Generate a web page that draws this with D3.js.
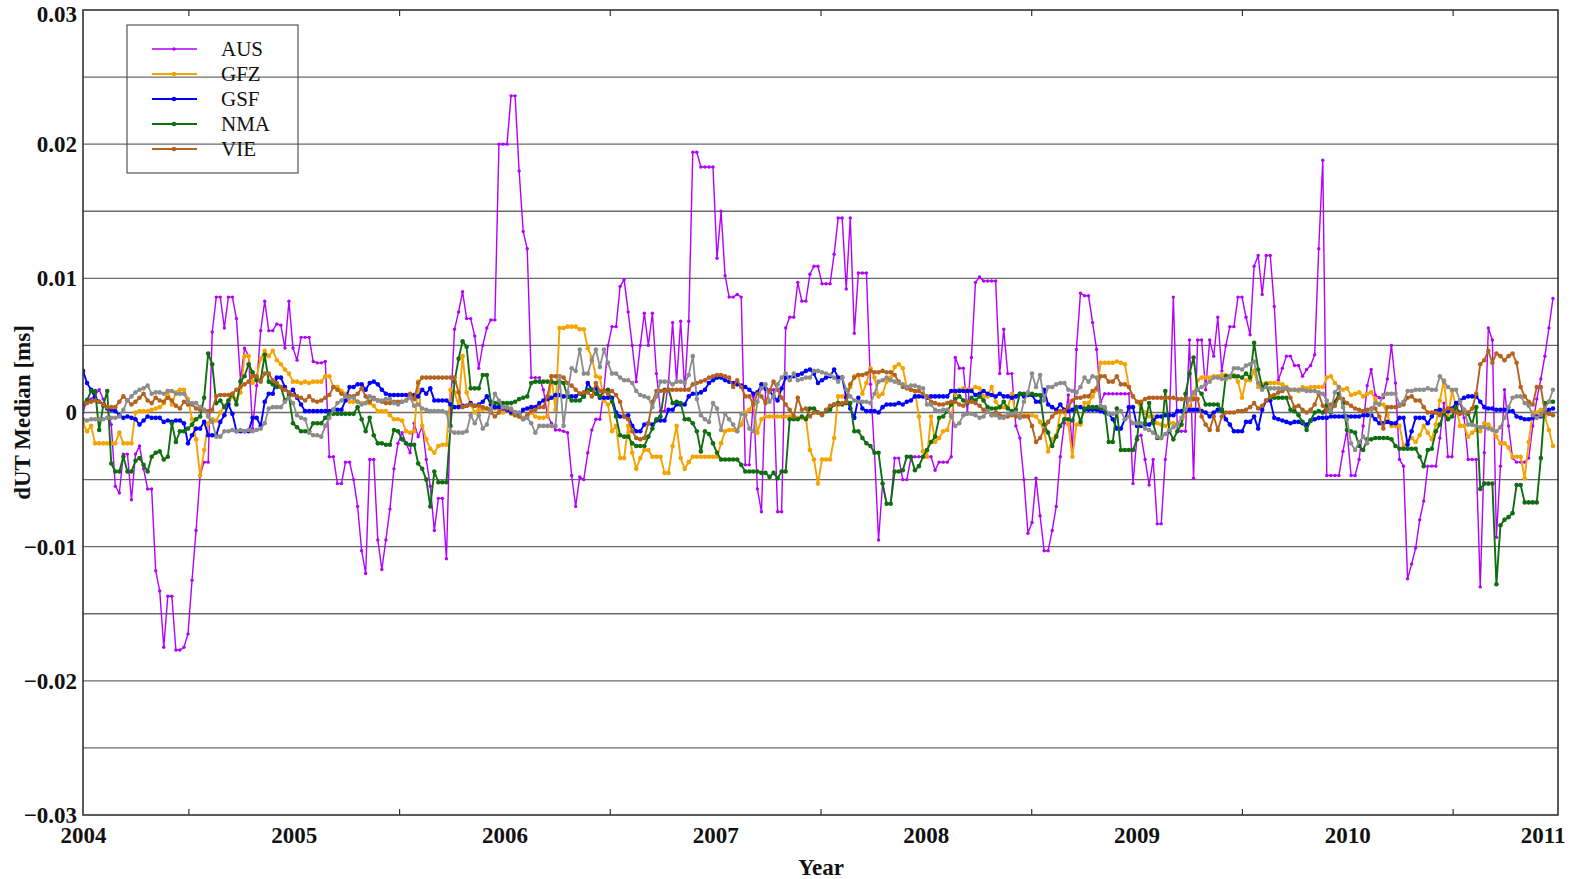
<!DOCTYPE html>
<html><head><meta charset="utf-8">
<script src="https://cdn.jsdelivr.net/npm/d3@7/dist/d3.min.js"></script>
<style>
body{margin:0;background:#fff;}
svg{display:block;}
text{font-family:"Liberation Serif","Times New Roman",serif;}
</style>
</head><body>
<svg id="chart" width="1574" height="879"></svg>
<script>
// ---------- data (values in units of 0.001 ms, weekly samples from 2004.0) ----------
const startYear = 2004;
const weekStepYears = 7 / 365.25;
const yearTicks = [2004, 2005, 2006, 2007, 2008, 2009, 2010, 2011];
const halfYearTicks = [2004.5, 2005.5, 2006.5, 2007.5, 2008.5, 2009.5, 2010.5];
const yLabelTicks = [-0.03, -0.02, -0.01, 0, 0.01, 0.02, 0.03];
const yGridTicks = [-0.025, -0.02, -0.015, -0.01, -0.005, 0, 0.005, 0.01, 0.015, 0.02, 0.025];
const seriesNames = ["AUS", "GFZ", "GSF", "NMA", "VIE"];
const xTitle = "Year";
const yTitle = "dUT Median [ms]";

const aus = [
0.0,1.0,1.0,1.3,1.7,1.0,0.3,-0.9,-5.5,-6.0,
-3.1,-3.1,-6.5,-3.1,-2.5,-4.2,-5.7,-5.7,-11.8,-13.3,
-17.5,-13.7,-13.7,-17.7,-17.7,-17.5,-16.5,-12.5,-8.8,-4.7,
-3.7,-3.7,6.0,8.6,8.6,6.3,8.6,8.6,7.0,2.4,
4.8,4.2,-1.2,2.0,6.1,8.3,6.1,6.1,6.6,6.5,
4.8,8.3,4.8,3.9,5.6,5.6,5.6,3.8,3.7,3.7,
3.8,-3.3,-3.3,-5.3,-5.3,-3.7,-3.7,-5.0,-7.0,-10.3,
-12.0,-3.5,-3.5,-9.5,-11.7,-9.5,-7.2,-4.2,-2.3,-1.5,
-2.3,-3.0,-0.8,-1.8,-1.0,-3.5,-5.5,-8.8,-6.4,-6.4,
-10.9,0.2,6.2,7.5,9.0,7.0,7.0,5.7,3.3,5.0,
6.3,6.9,6.9,20.0,20.0,20.0,23.6,23.6,18.0,13.5,
12.2,2.6,2.6,2.6,1.7,-0.2,-0.8,-1.3,-1.3,-1.4,
-1.5,-4.7,-7.0,-4.8,-5.0,-3.0,-1.3,-0.5,-0.5,1.7,
5.0,6.4,6.4,9.4,9.9,7.5,5.0,2.3,5.0,7.4,
5.0,7.4,2.9,0.1,0.1,2.3,6.7,2.3,6.8,1.7,
6.8,19.4,19.4,18.3,18.3,18.3,18.3,11.5,15.0,10.2,
8.6,8.6,8.8,8.6,-3.9,-3.9,1.2,-5.7,-7.4,1.7,
1.7,1.7,-7.4,-7.4,6.3,7.1,7.1,9.7,8.3,8.3,
10.3,10.9,10.9,9.6,9.6,9.6,11.8,14.5,14.5,9.2,
14.5,5.9,10.4,10.4,10.4,2.1,-3.0,-9.5,-5.3,-6.8,
-6.8,-3.4,-3.4,-5.0,-5.0,-3.4,-3.3,-3.3,-3.3,-3.3,
-3.3,-4.3,-3.7,-3.7,-3.7,-3.3,4.1,3.3,3.3,0.0,
4.1,9.7,10.1,9.8,9.8,9.8,9.8,2.9,6.2,2.9,
2.9,-1.0,-1.9,-5.0,-9.0,-8.2,-4.9,-7.7,-10.3,-10.3,
-8.8,-7.0,-3.3,-0.8,1.3,-2.8,4.7,8.9,8.7,8.7,
6.7,4.7,0.8,1.4,1.4,1.4,1.4,1.4,1.4,1.4,
-5.3,-1.8,-1.7,-3.5,-5.4,-3.5,-8.3,-8.3,-3.5,-0.8,
8.6,-1.4,-1.4,-1.4,5.4,-4.9,5.4,5.4,1.7,5.4,
4.2,7.1,3.1,5.0,6.4,6.4,8.6,8.6,7.1,5.8,
10.9,11.7,8.8,11.7,11.7,7.9,2.4,3.3,4.2,4.2,
3.5,3.5,2.7,3.2,3.5,4.3,12.2,18.8,-4.7,-4.7,
-4.7,-4.7,-2.9,-1.3,-4.7,-4.7,-3.5,-1.0,2.0,3.2,
1.3,1.1,1.1,2.5,5.0,2.2,-3.5,-4.0,-12.4,-11.3,
-10.1,-8.0,-6.6,-4.0,-4.0,-4.0,-1.9,0.7,-3.3,-3.3,
0.4,0.7,-0.4,-3.5,-3.5,-3.5,-13.0,-3.0,6.3,5.4,
-9.3,-4.0,1.7,-1.0,-3.4,-3.7,-3.7,-3.7,-3.4,-1.0,
1.0,2.5,4.2,6.3,8.5
];

const gfz = [
-0.8,-1.4,-1.0,-2.3,-2.3,-2.3,-2.3,-2.3,-2.3,-1.5,
-2.3,-2.3,-2.3,0.0,0.1,0.1,0.1,0.2,0.3,0.4,
0.7,1.6,0.6,1.5,1.7,1.7,1.0,-0.5,-2.0,-4.7,
-2.8,-0.8,-0.5,-0.6,0.0,0.5,0.7,1.2,1.0,1.5,
4.2,4.2,2.2,2.7,4.0,4.6,4.2,4.6,3.9,3.6,
3.2,2.9,2.3,2.3,2.2,2.3,2.2,2.3,2.3,2.3,
2.7,2.7,1.9,1.9,1.6,1.4,0.8,0.8,0.8,0.7,
0.7,0.7,0.5,0.1,0.1,0.1,-0.2,-0.5,-0.5,-0.6,
-1.4,-1.5,-1.4,2.3,-1.0,-2.0,-2.7,-3.0,-2.5,-2.4,
-2.4,1.7,1.5,0.5,4.2,1.5,0.6,0.0,0.2,0.2,
0.3,0.3,0.3,0.2,0.0,0.2,-0.1,-0.2,-0.3,-0.4,
-0.3,0.0,-0.3,-0.4,-0.4,-0.3,2.7,0.2,6.3,6.3,
6.4,6.4,6.4,6.2,6.2,4.8,4.1,2.7,2.6,0.9,
0.6,-1.4,-1.0,-3.4,-3.4,-1.0,-3.0,-4.2,-3.4,-2.8,
-2.8,-3.3,-3.3,-3.3,-4.5,-4.5,-2.5,-1.0,-3.4,-4.2,
-3.7,-3.3,-3.3,-3.3,-3.3,-3.3,-3.3,-3.3,-2.3,-1.4,
-1.3,-1.3,-1.4,-0.9,0.0,0.2,0.7,-1.5,-0.5,-0.3,
-0.3,-0.3,-0.3,-0.3,-0.3,-0.3,-0.3,-0.4,-0.4,-0.4,
-2.8,-3.5,-5.3,-3.5,-3.5,-3.5,-1.9,1.2,1.2,1.2,
1.9,2.7,2.8,1.4,2.2,3.3,2.6,1.2,1.4,2.3,
2.6,3.4,3.6,3.3,1.9,1.7,1.6,-0.3,-2.9,-3.3,
-0.3,-2.2,-1.9,-1.4,-1.3,-0.3,1.4,1.7,1.8,1.7,
1.7,1.9,1.8,1.2,1.2,1.9,0.8,0.4,0.4,0.4,
1.4,-0.2,-0.2,-0.2,-0.2,-0.2,-0.3,-0.7,-1.4,-2.9,
-2.0,-1.7,0.0,0.0,-0.9,-3.3,-0.9,-0.9,0.7,0.7,
1.2,1.7,3.7,3.7,3.7,3.7,3.8,3.7,3.6,1.9,
1.2,0.8,0.3,0.0,-0.3,-0.3,-0.8,-0.9,-1.0,-0.8,
-0.8,-0.9,-0.9,0.0,0.4,1.2,2.4,2.6,2.6,2.6,
2.7,2.7,2.8,2.8,2.6,2.8,2.3,1.1,2.4,2.4,
3.1,1.9,2.1,2.2,2.2,2.2,2.2,2.1,1.9,1.7,
1.7,1.6,1.9,1.8,1.9,1.9,1.9,1.9,2.6,2.7,
2.2,1.9,1.7,1.8,1.3,1.4,1.5,1.2,1.4,1.5,
1.0,0.6,0.6,-0.2,-1.0,-1.0,-1.0,-2.5,-2.2,-1.9,
-2.2,-1.7,-1.0,-1.5,-2.0,-0.9,0.9,2.4,-0.5,1.6,
0.5,-1.0,-1.0,-1.8,-1.5,-1.3,-1.4,-0.8,-0.9,-1.2,
-1.8,-2.3,-2.3,-2.6,-3.3,-3.3,-3.3,-4.9,-2.2,0.0,
0.0,0.2,-0.3,-1.3,-2.5
];

const gsf = [
3.1,2.2,1.7,1.1,0.8,0.6,0.3,0.2,0.1,-0.2,
-0.4,-0.3,-0.4,-0.5,-0.9,-0.6,-0.3,-0.4,-0.4,-0.4,
-0.7,-0.6,-0.7,-0.6,-0.6,-0.8,-2.3,-1.7,-1.2,-1.2,
-0.7,-1.7,-1.7,-1.7,-0.7,-0.2,0.6,-0.1,-1.4,-1.4,
-1.4,-1.4,-0.4,-0.4,-1.0,0.8,1.4,1.4,2.6,2.6,
1.9,1.4,1.7,1.1,0.6,0.1,0.1,0.1,0.1,0.1,
0.1,0.1,0.2,0.2,0.2,0.9,1.9,1.9,2.1,2.1,
1.7,2.2,2.3,2.1,1.7,1.4,1.3,1.3,1.3,1.3,
1.3,1.3,1.3,1.2,1.7,1.4,1.8,0.9,0.9,0.9,
0.9,0.6,0.4,0.4,0.5,0.5,0.7,0.5,0.6,0.8,
1.2,0.6,0.4,0.4,0.3,0.2,0.0,0.0,-0.2,0.2,
0.3,0.4,0.4,0.7,0.9,1.0,1.1,1.3,1.3,1.2,
1.2,1.2,1.2,1.4,1.2,2.2,1.7,1.8,1.1,1.1,
1.1,1.1,0.0,-0.3,-0.3,-0.2,-1.0,-1.4,-1.4,-0.9,
-0.8,-0.9,-0.6,-0.6,-0.6,0.2,0.2,0.6,0.6,0.6,
1.2,1.4,1.4,1.5,1.7,2.2,2.4,2.6,2.6,2.4,
2.3,2.2,2.1,2.0,1.9,1.7,1.4,1.5,2.1,1.8,
1.6,1.2,0.9,1.8,2.6,2.6,2.7,2.8,2.9,3.1,
3.2,2.9,2.2,2.4,2.6,2.7,3.2,2.6,2.6,1.1,
0.3,-0.4,1.1,0.3,0.1,0.1,0.1,0.0,0.4,0.6,
0.6,0.6,0.7,0.6,0.8,0.9,1.2,1.2,1.2,1.1,
1.2,1.2,1.2,1.2,1.2,1.6,1.6,1.6,1.6,1.6,
1.6,1.3,1.4,1.6,1.4,1.3,1.2,1.4,1.2,1.2,
1.1,1.2,1.4,1.2,1.3,1.3,0.8,0.8,1.7,0.6,
0.4,0.2,0.6,0.2,0.1,0.2,0.4,0.4,0.2,0.2,
0.2,0.2,0.1,0.0,-0.1,-0.5,-1.2,-1.2,-0.5,0.4,
0.4,-1.0,-1.0,-0.9,-0.9,-0.6,-0.3,-0.3,-0.2,-0.2,
-0.2,0.1,0.1,0.1,0.2,0.2,0.2,0.1,0.0,-0.3,
0.0,0.2,0.2,-0.5,-0.9,-1.4,-1.4,-1.4,-0.7,-0.7,
-0.3,-1.2,0.2,0.9,0.9,-0.4,-0.5,-0.6,-0.7,-0.8,
-0.7,-0.7,-0.8,-0.9,-0.6,-0.5,-0.4,-0.4,-0.4,-0.3,
-0.3,-0.3,-0.3,-0.3,-0.3,-0.3,-0.3,-0.2,-0.2,-0.2,
-0.5,-0.8,-0.8,-0.7,-0.8,-0.8,-0.4,-0.4,-2.4,-1.4,
-0.4,-0.4,-0.4,-0.8,-0.3,0.1,0.2,0.1,0.1,0.3,
0.7,0.9,1.1,1.2,1.2,1.2,0.8,0.4,0.3,0.3,
0.2,0.2,0.2,0.1,0.1,-0.3,-0.4,-0.5,-0.5,-0.4,
-0.3,-0.3,0.0,0.2,0.3
];

const nma = [
0.6,0.9,1.6,1.6,-1.3,0.5,1.6,-3.8,-4.4,-4.4,
-3.3,-4.4,-4.4,-3.6,-3.4,-3.9,-4.4,-3.3,-3.0,-2.9,
-3.5,-3.3,-0.8,-2.2,-1.4,-1.4,-1.2,-0.9,-0.5,-0.3,
1.1,4.4,3.6,0.7,0.9,0.4,0.9,1.4,0.6,2.3,
2.7,3.6,3.0,2.4,2.4,4.3,2.3,2.1,1.9,1.9,
0.9,1.2,-0.8,-1.1,-1.4,-1.4,-1.4,-0.8,-0.8,-0.8,
-0.4,-0.1,-0.1,-0.1,-0.1,-0.1,-0.1,-0.1,0.4,-0.5,
-1.4,-0.4,-1.7,-2.3,-2.3,-2.4,-2.4,-1.3,-1.4,-2.0,
-2.3,-2.4,-2.4,-3.8,-4.2,-5.0,-7.0,-4.4,-5.2,-5.2,
-5.2,-1.0,2.3,4.0,5.3,4.9,1.8,1.8,1.8,2.8,
2.8,0.8,0.7,0.7,0.7,0.7,0.7,0.8,1.0,1.1,
1.2,2.2,2.3,2.3,2.3,2.3,2.3,2.2,2.3,2.2,
1.2,0.9,0.9,0.9,1.2,1.7,1.7,1.4,1.2,1.6,
1.7,0.8,-0.3,-1.7,-1.8,-1.8,-2.3,-2.5,-2.5,-2.5,
-1.8,-1.2,-0.5,-0.3,1.7,1.7,0.7,0.8,0.7,-0.5,
-0.5,-0.8,-1.4,-2.9,-1.4,-1.6,-2.3,-3.0,-3.5,-3.5,
-3.5,-3.5,-3.5,-3.9,-4.4,-4.4,-4.4,-4.4,-4.5,-4.5,
-4.8,-4.5,-4.9,-4.4,-4.4,-0.5,-0.5,-0.5,-0.3,-0.5,
0.3,0.3,0.0,-0.1,0.1,0.2,0.6,0.7,0.6,0.7,
0.7,-1.4,-1.4,-1.9,-2.3,-2.5,-3.0,-3.0,-5.3,-6.8,
-6.8,-4.4,-4.4,-4.3,-3.3,-3.3,-4.3,-4.0,-3.3,-2.8,
-2.2,-1.8,-0.4,-0.3,0.1,0.6,1.0,1.2,0.9,0.7,
1.1,0.9,1.2,0.9,0.4,0.3,0.3,0.4,0.8,0.3,
0.1,0.2,1.4,1.4,1.4,1.4,1.3,1.3,-0.9,-1.5,
-2.5,-1.8,-1.0,-0.5,-0.5,-0.6,0.4,-0.7,0.3,0.4,
0.4,0.4,0.3,0.3,-2.2,-2.2,0.3,-2.8,-2.8,-2.8,
-2.8,-2.0,0.7,-0.8,0.7,-0.8,-1.9,-1.9,1.6,-1.4,
-2.0,-1.4,-0.9,1.4,2.9,4.1,1.7,1.4,0.6,0.6,
0.6,0.6,0.1,2.7,2.7,2.7,2.7,2.6,2.9,2.6,
5.2,3.2,1.9,2.1,1.1,1.1,1.1,1.1,1.1,0.2,
0.1,-0.2,-0.7,-1.3,-0.6,0.0,0.1,0.0,0.5,0.0,
0.8,1.4,0.7,-1.3,-1.4,-1.5,-2.5,-2.8,-2.0,-2.0,
-1.9,-1.9,-1.9,-1.9,-2.0,-2.5,-2.7,-2.7,-2.7,-2.7,
-2.7,-3.3,-4.0,-2.8,-2.7,-1.4,-0.9,0.0,-0.5,-0.3,
0.4,0.0,0.2,-0.1,-0.9,0.4,-5.7,-5.3,-5.3,-5.3,
-12.8,-8.4,-8.0,-7.8,-7.5,-5.4,-5.4,-6.7,-6.7,-6.7,
-6.7,-3.4,0.7,0.8,0.8
];

const vie = [
0.7,0.7,0.8,0.9,0.8,0.6,0.4,0.4,0.4,0.8,
1.2,0.9,0.6,0.8,1.1,1.4,0.9,0.7,1.1,0.9,
0.8,1.1,0.9,0.5,0.3,0.8,0.6,0.6,0.3,0.2,
0.2,0.1,0.2,1.2,1.3,1.3,1.3,1.4,1.7,1.9,
2.1,2.3,2.7,2.7,2.3,2.9,2.9,2.4,2.2,1.9,
1.7,1.5,1.3,1.2,1.1,0.9,1.2,0.9,0.8,0.9,
1.1,1.3,1.9,1.7,1.4,1.2,1.2,1.2,1.4,1.8,
1.2,0.8,1.1,0.9,0.8,0.7,0.7,0.8,0.8,0.8,
0.9,1.4,1.0,2.2,2.6,2.6,2.6,2.6,2.6,2.6,
2.6,2.6,2.6,1.5,0.4,0.5,0.6,0.5,0.5,0.4,
0.3,0.0,-0.3,0.0,0.4,0.3,0.2,-0.2,-0.3,-0.5,
-0.2,0.1,0.2,0.4,0.4,1.2,2.7,2.7,2.7,2.6,
2.2,2.0,1.7,1.4,1.5,1.5,1.2,2.2,1.6,1.6,
1.4,1.6,1.3,0.8,-0.3,-0.5,-1.4,-1.9,-2.0,-1.9,
-0.8,0.8,1.6,1.6,1.6,1.7,1.7,1.7,1.7,1.7,
1.7,2.1,2.2,2.3,2.4,2.6,2.7,2.8,2.8,2.7,
2.6,1.9,2.4,1.9,1.2,1.2,0.6,1.4,1.2,0.7,
1.6,2.3,1.7,1.1,0.6,0.2,-0.3,1.1,0.2,0.3,
-0.3,0.0,0.0,-0.2,0.2,0.5,0.6,0.6,0.7,0.8,
2.1,2.6,2.8,2.8,2.9,3.1,3.0,3.0,3.1,3.0,
3.0,2.8,2.3,1.9,1.8,1.7,1.6,1.6,1.4,1.2,
0.8,0.7,0.6,0.6,0.7,0.8,0.8,0.6,0.5,0.8,
0.8,0.7,0.5,0.2,0.1,-0.2,0.0,-0.2,-0.3,-0.3,
-0.2,-0.3,-0.3,-0.3,-0.3,-1.0,-2.2,-1.9,-1.3,-0.7,
-0.3,0.0,0.1,0.1,0.4,0.9,1.1,1.1,1.2,1.2,
1.6,1.8,2.7,2.7,2.3,2.3,2.7,2.1,2.1,1.9,
1.2,0.8,0.8,1.0,1.1,1.1,1.1,1.1,1.1,1.1,
1.1,1.0,1.0,1.0,1.0,1.0,1.0,-0.3,-0.9,-1.3,
-0.3,-1.3,-0.3,0.0,0.0,0.0,0.1,0.1,0.2,0.4,
0.7,0.3,0.5,0.9,1.2,1.3,1.5,1.6,1.8,1.1,
0.4,0.5,0.2,0.0,0.2,0.6,1.4,0.5,0.2,0.6,
0.5,1.1,1.0,0.7,0.5,0.3,0.2,0.1,0.2,0.3,
0.3,-0.3,-1.2,0.4,0.4,0.4,0.5,0.6,1.1,1.2,
0.9,0.9,0.4,0.0,0.0,0.0,-0.2,0.1,0.3,0.2,
0.0,-0.1,0.0,0.0,0.3,1.4,3.6,3.9,4.6,3.7,
4.4,4.2,3.9,4.2,4.4,3.7,1.9,1.2,0.8,0.6,
1.9,1.9,0.0,-0.1,-0.2
];

const other = [
-0.5,-0.6,-0.5,-0.5,-0.5,-0.5,-0.4,-0.4,-0.4,-0.3,
0.2,0.9,1.2,1.5,1.7,1.8,2.0,1.4,1.5,1.5,
1.4,1.6,1.6,1.4,1.4,1.4,0.8,0.7,0.7,0.4,
0.2,-0.3,-0.7,-1.8,-1.8,-1.4,-1.4,-1.3,-1.4,-1.3,
-1.4,-1.3,-1.4,-1.3,-1.2,-0.8,0.3,0.4,0.4,0.4,
0.8,1.1,0.7,-0.2,-0.4,-0.5,-1.5,-1.7,-1.7,-1.8,
-1.0,-0.4,0.2,0.7,0.9,1.2,1.1,1.1,0.8,0.6,
0.7,1.2,1.0,0.9,0.9,1.0,1.0,0.7,0.6,0.8,
0.9,1.1,0.5,0.6,0.3,0.2,0.1,0.1,0.1,0.1,
0.0,-1.4,-1.5,-1.5,-1.5,-1.4,-0.2,-0.8,-0.2,-1.2,
-0.9,0.2,1.4,0.9,0.4,0.4,0.3,0.0,0.0,-0.5,
-0.4,-0.8,-1.5,-1.0,-1.0,-1.0,-1.0,-1.0,2.7,-1.0,
1.5,3.3,3.1,4.7,2.9,2.9,3.9,4.7,3.4,4.7,
3.7,2.9,2.9,2.6,2.4,2.4,2.2,1.6,1.3,1.2,
1.1,0.4,1.2,2.3,2.3,2.3,2.1,2.3,2.3,2.2,
2.8,4.2,1.0,-0.2,-0.5,-0.7,0.7,0.3,-1.3,-0.1,
-0.5,-0.9,-1.4,-0.1,-0.2,-1.2,-1.4,0.8,1.8,2.1,
0.8,1.2,2.1,2.6,2.9,2.4,2.9,2.4,2.5,2.6,
2.6,3.1,3.1,3.0,2.9,2.8,2.6,2.3,2.6,1.7,
1.2,0.9,0.8,0.8,0.8,0.7,1.4,2.3,2.4,2.6,
2.4,2.3,2.2,2.1,1.9,2.0,2.0,1.9,1.8,0.6,
0.6,0.2,0.1,0.2,0.2,-0.3,-1.0,-0.8,-0.2,-0.1,
-0.1,-0.2,-0.4,-0.3,0.1,-0.2,-0.2,-0.4,-0.4,-0.1,
-0.1,0.0,-0.4,0.8,1.5,2.9,1.9,2.8,0.9,1.9,
1.9,2.1,2.2,2.2,1.7,1.6,1.5,1.9,2.6,2.3,
2.7,2.6,0.5,0.4,-0.1,-0.1,0.0,0.1,-0.5,-0.3,
-0.8,-0.8,-0.8,-1.2,-1.3,-1.5,-1.8,-1.9,-1.6,-1.3,
-1.1,-0.9,-0.4,0.2,1.0,1.5,1.7,1.9,2.1,2.3,
2.6,2.6,2.5,2.5,2.7,3.3,3.3,3.2,3.5,3.6,
3.8,2.2,1.7,1.9,1.8,1.8,1.8,1.8,1.8,1.7,
1.7,1.7,1.7,1.6,1.6,1.6,1.5,1.4,0.9,0.1,
1.5,1.9,0.4,-0.5,-2.3,-2.8,-2.2,-1.8,-2.3,0.2,
0.7,0.6,1.3,1.4,1.4,1.4,0.6,0.8,1.6,1.6,
1.7,1.7,1.7,1.8,1.7,1.7,2.7,2.3,1.9,1.7,
1.7,0.8,0.2,-0.9,-0.9,-1.0,-1.1,-1.1,-1.2,-1.3,
-1.4,-1.1,-0.4,0.4,1.1,1.2,1.2,0.7,0.5,-0.2,
-0.4,-0.2,0.3,0.8,1.7
];

// ---------- layout ----------
const W = 1574, H = 879;
const M = {left: 83, right: 1558, top: 10, bottom: 815};
const FONT = '"Liberation Serif","Times New Roman",serif';

const svg = d3.select("#chart");
const x = d3.scaleLinear().domain([2004, 2011]).range([M.left, M.right]);
const y = d3.scaleLinear().domain([-0.03, 0.03]).range([M.bottom, M.top]);
const unit = 0.001; // data units -> ms

const series = [
  {name: "other", values: other, color: "#8c8c8c", width: 1.8, r: 2.3, legend: false},
  {name: "AUS", values: aus, color: "#b300ff", width: 1.4, r: 1.7, legend: true},
  {name: "GFZ", values: gfz, color: "#f5a300", width: 1.9, r: 2.3, legend: true},
  {name: "GSF", values: gsf, color: "#0000ff", width: 1.9, r: 2.3, legend: true},
  {name: "NMA", values: nma, color: "#0f6e0f", width: 1.9, r: 2.3, legend: true},
  {name: "VIE", values: vie, color: "#b5621e", width: 1.9, r: 2.3, legend: true}
];

// gridlines
svg.append("g").selectAll("line").data(yGridTicks).join("line")
  .attr("x1", M.left).attr("x2", M.right)
  .attr("y1", d => y(d)).attr("y2", d => y(d))
  .attr("stroke", "#6a6a6a").attr("stroke-width", 1.3);

// clip
svg.append("defs").append("clipPath").attr("id", "clip")
  .append("rect").attr("x", M.left).attr("y", M.top)
  .attr("width", M.right - M.left).attr("height", M.bottom - M.top);

const plot = svg.append("g").attr("clip-path", "url(#clip)");
const drawOrder = ["AUS", "GFZ", "GSF", "NMA", "VIE", "other"];
drawOrder.forEach(nm => {
  const s = series.find(d => d.name === nm);
  const pts = s.values.map((v, i) => ({t: startYear + i * weekStepYears, v: v * unit}));
  const g = plot.append("g");
  g.append("path").datum(pts)
    .attr("fill", "none").attr("stroke", s.color).attr("stroke-width", s.width)
    .attr("stroke-linejoin", "round")
    .attr("d", d3.line().x(d => x(d.t)).y(d => y(d.v)));
  g.selectAll("circle").data(pts).join("circle")
    .attr("cx", d => x(d.t)).attr("cy", d => y(d.v)).attr("r", s.r)
    .attr("fill", s.color);
});

// frame
svg.append("rect").attr("x", M.left).attr("y", M.top)
  .attr("width", M.right - M.left).attr("height", M.bottom - M.top)
  .attr("fill", "none").attr("stroke", "#333").attr("stroke-width", 1.6);

// x axis (bottom) labels
const xAxis = svg.append("g").attr("transform", `translate(0,${M.bottom})`)
  .call(d3.axisBottom(x).tickValues(yearTicks).tickFormat(d3.format("d")).tickSize(0).tickPadding(12));
xAxis.select(".domain").remove();
xAxis.selectAll("text").attr("font-family", FONT).attr("font-size", 23)
  .attr("font-weight", "bold").attr("fill", "#111");
xAxis.selectAll(".tick").filter(d => d === 2011).select("text")
  .attr("text-anchor", "end").attr("dx", 7);

// minor half-year ticks (inward, bottom & top)
const minorB = svg.append("g").attr("transform", `translate(0,${M.bottom})`)
  .call(d3.axisTop(x).tickValues(halfYearTicks).tickSize(6).tickFormat(""));
minorB.select(".domain").remove();
minorB.selectAll("line").attr("stroke", "#333").attr("stroke-width", 1.2);
const minorT = svg.append("g").attr("transform", `translate(0,${M.top})`)
  .call(d3.axisBottom(x).tickValues(halfYearTicks).tickSize(6).tickFormat(""));
minorT.select(".domain").remove();
minorT.selectAll("line").attr("stroke", "#333").attr("stroke-width", 1.2);

// y axis labels
const fmtY = d => d === 0 ? "0" : d3.format(".2f")(d).replace("-", "\u2212");
const yAxis = svg.append("g").attr("transform", `translate(${M.left},0)`)
  .call(d3.axisLeft(y).tickValues(yLabelTicks).tickFormat(fmtY).tickSize(0).tickPadding(6));
yAxis.select(".domain").remove();
yAxis.selectAll("text").attr("font-family", FONT).attr("font-size", 23)
  .attr("font-weight", "bold").attr("fill", "#111");
yAxis.selectAll(".tick").filter(d => d === 0.03).select("text").attr("dy", "0.5em");

// axis titles
svg.append("text").attr("x", 821).attr("y", 875)
  .attr("text-anchor", "middle").attr("font-family", FONT).attr("font-size", 23)
  .attr("font-weight", "bold").attr("fill", "#111").text(xTitle);
svg.append("text").attr("transform", `translate(30,${y(0)}) rotate(-90)`)
  .attr("text-anchor", "middle").attr("font-family", FONT).attr("font-size", 23)
  .attr("font-weight", "bold").attr("fill", "#111").text(yTitle);

// legend
const leg = svg.append("g");
leg.append("rect").attr("x", 127).attr("y", 25).attr("width", 171).attr("height", 148)
  .attr("fill", "none").attr("stroke", "#555").attr("stroke-width", 1.2);
const legItems = series.filter(s => s.legend);
legItems.forEach((s, i) => {
  const yy = 49 + i * 25;
  leg.append("line").attr("x1", 152).attr("x2", 197).attr("y1", yy).attr("y2", yy)
    .attr("stroke", s.color).attr("stroke-width", s.width);
  leg.append("circle").attr("cx", 174).attr("cy", yy).attr("r", s.r).attr("fill", s.color);
  leg.append("text").attr("x", 221).attr("y", yy + 7).attr("font-family", FONT)
    .attr("font-size", 21).attr("fill", "#111").text(s.name);
});
</script>
</body></html>
